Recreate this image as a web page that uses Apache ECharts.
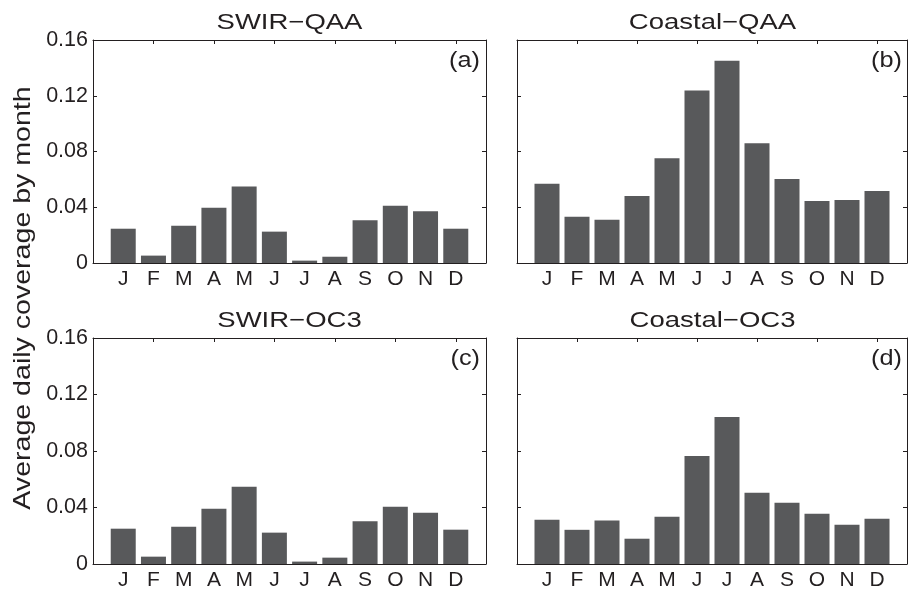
<!DOCTYPE html>
<html>
<head>
<meta charset="utf-8">
<script src="https://cdn.jsdelivr.net/npm/echarts@6/dist/echarts.min.js"></script>
<style>
  html, body { margin: 0; padding: 0; background: #fff; }
  #chart { width: 910px; height: 591px; }
</style>
</head>
<body>
<div id="chart"></div>
<script>
// monthly average daily coverage
var months = ['J', 'F', 'M', 'A', 'M', 'J', 'J', 'A', 'S', 'O', 'N', 'D'];
var swirQaa = [0.0246, 0.0053, 0.0268, 0.0397, 0.0548, 0.0225, 0.0017, 0.0045, 0.0306, 0.0411, 0.0371, 0.0246];
var coastalQaa = [0.0569, 0.0331, 0.0310, 0.0481, 0.0752, 0.1238, 0.1452, 0.0860, 0.0602, 0.0445, 0.0452, 0.0517];
var swirOc3 = [0.0250, 0.0052, 0.0264, 0.0392, 0.0547, 0.0222, 0.0017, 0.0045, 0.0302, 0.0406, 0.0363, 0.0243];
var coastalOc3 = [0.0313, 0.0242, 0.0308, 0.0179, 0.0334, 0.0765, 0.1040, 0.0504, 0.0433, 0.0355, 0.0278, 0.0320];
var yTicks = [0, 0.04, 0.08, 0.12, 0.16];

var panels = [
  { name: 'SWIR\u2212QAA', tag: '(a)', data: swirQaa, left: 93, top: 40, width: 393, height: 223, yLabels: true },
  { name: 'Coastal\u2212QAA', tag: '(b)', data: coastalQaa, left: 517, top: 40, width: 391, height: 223, yLabels: false },
  { name: 'SWIR\u2212OC3', tag: '(c)', data: swirOc3, left: 93, top: 338, width: 393, height: 226, yLabels: true },
  { name: 'Coastal\u2212OC3', tag: '(d)', data: coastalOc3, left: 517, top: 338, width: 391, height: 226, yLabels: false }
];

var ink = '#231f20';
var barColor = '#58595b';
var font = 'Liberation Sans, Arial, Helvetica, sans-serif';

var myChart = echarts.init(document.getElementById('chart'));

var grid = [], xAxis = [], yAxis = [], series = [], graphic = [];

function boxLine() {
  return { show: true, onZero: false, lineStyle: { color: ink, width: 1 } };
}
function inTicks() {
  return { show: true, inside: true, length: 4, lineStyle: { color: ink, width: 1 } };
}

panels.forEach(function (p, i) {
  grid.push({ left: p.left, top: p.top, width: p.width, height: p.height, containLabel: false });

  // bottom axis: month letters
  xAxis.push({
    type: 'value', gridIndex: i, min: 0, max: 13, interval: 1, position: 'bottom',
    axisLine: boxLine(),
    axisTick: { show: false },
    splitLine: { show: false },
    axisLabel: {
      color: ink, fontSize: 21, fontFamily: font, margin: 6,
      formatter: function (v) { return (v >= 1 && v <= 12) ? months[v - 1] : ''; }
    }
  });
  // top axis: box edge, inward ticks every 2 months
  xAxis.push({
    type: 'value', gridIndex: i, min: 0, max: 13, interval: 2, position: 'top',
    axisLine: boxLine(),
    axisTick: inTicks(),
    axisLabel: { show: false },
    splitLine: { show: false }
  });

  yAxis.push({
    type: 'value', gridIndex: i, min: 0, max: 0.16, interval: 0.04, position: 'left',
    axisLine: boxLine(),
    axisTick: inTicks(),
    splitLine: { show: false },
    axisLabel: {
      show: p.yLabels, color: ink, fontSize: 21.5, fontFamily: font, margin: 5,
      formatter: function (v) {
        var t = yTicks.find(function (k) { return Math.abs(k - v) < 1e-9; });
        return t === 0 ? '0' : String(t);
      }
    }
  });
  yAxis.push({
    type: 'value', gridIndex: i, min: 0, max: 0.16, interval: 0.04, position: 'right',
    axisLine: boxLine(),
    axisTick: inTicks(),
    splitLine: { show: false },
    axisLabel: { show: false }
  });

  series.push({
    type: 'bar',
    xAxisIndex: i * 2,
    yAxisIndex: i * 2,
    barWidth: 25,
    itemStyle: { color: barColor },
    silent: true,
    data: p.data.map(function (v, k) { return [k + 1, v]; })
  });

  // panel title, a touch wider than the font draws it
  graphic.push({
    type: 'text',
    x: p.left + p.width / 2, y: p.top - 17,
    scaleX: 1.25,
    style: { text: p.name, fill: ink, font: '22px ' + font, textAlign: 'center', textVerticalAlign: 'middle' }
  });
  graphic.push({
    type: 'text',
    x: p.left + p.width - 6, y: p.top + 21,
    scaleX: 1.15,
    style: { text: p.tag, fill: ink, font: '22px ' + font, textAlign: 'right', textVerticalAlign: 'middle' }
  });
});

graphic.push({
  type: 'text',
  x: 23, y: 298,
  rotation: Math.PI / 2,
  scaleX: 1.19,
  style: { text: 'Average daily coverage by month', fill: ink, font: '24px ' + font, textAlign: 'center', textVerticalAlign: 'middle' }
});

var option = {
  backgroundColor: '#ffffff',
  animation: false,
  grid: grid,
  xAxis: xAxis,
  yAxis: yAxis,
  series: series,
  graphic: graphic
};

myChart.setOption(option);
</script>
</body>
</html>
